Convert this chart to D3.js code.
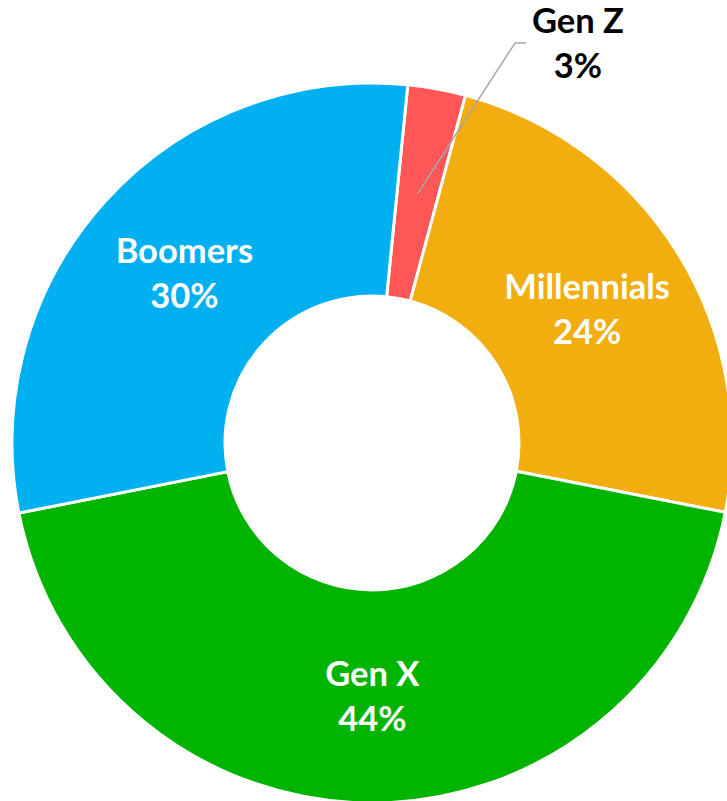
<!DOCTYPE html>
<html>
<head>
<meta charset="utf-8">
<script src="https://cdn.jsdelivr.net/npm/d3@7"></script>
<style>
  html, body { margin: 0; padding: 0; background: #fff; }
  svg { display: block; }
</style>
</head>
<body>
<svg id="chart" width="727" height="801"></svg>
<script>
// Share of respondents by generation (clockwise from the top)
const generations = ["Gen Z", "Millennials", "Gen X", "Boomers"];
const shares = [0.026, 0.239, 0.438, 0.297];
const colors = ["#FF5757", "#F2AD0F", "#00B400", "#00B0F0"];

const svg = d3.select("#chart");
const cx = 372, cy = 443;
const outerR = 360, innerR = 147;
const startDeg = 5.7;

const data = generations.map((g, i) => ({ name: g, value: shares[i], color: colors[i] }));

const pie = d3.pie()
  .sort(null)
  .value(d => d.value)
  .startAngle(startDeg * Math.PI / 180)
  .endAngle((startDeg + 360) * Math.PI / 180);

const arc = d3.arc().innerRadius(innerR).outerRadius(outerR);
const labelArc = d3.arc().innerRadius((innerR + outerR) / 2).outerRadius((innerR + outerR) / 2);

const g = svg.append("g").attr("transform", `translate(${cx},${cy})`);
const arcs = pie(data);

g.selectAll("path.slice")
  .data(arcs)
  .join("path")
  .attr("class", "slice")
  .attr("d", arc)
  .attr("fill", d => d.data.color)
  .attr("stroke", "#fff")
  .attr("stroke-width", 3)
  .attr("stroke-linejoin", "miter");

const pct = d3.format(".0%");
const font = "Lato, 'Open Sans', sans-serif";
const fontSize = 34.5;

// Labels inside the ring for the large slices, an outside callout for the small one
arcs.forEach(d => {
  const [lx, ly] = labelArc.centroid(d);
  if (d.data.name === "Gen Z") {
    const tx = 578 - cx, ty = 33 - cy;  // callout text anchor (first baseline)
    g.append("polyline")
      .attr("points", [[lx, ly], [515 - cx, 43 - cy], [526 - cx, 43 - cy]].map(p => p.join(",")).join(" "))
      .attr("fill", "none")
      .attr("stroke", "#A6A6A6")
      .attr("stroke-width", 1.5);
    const t = g.append("text")
      .attr("text-anchor", "middle")
      .attr("font-family", font)
      .attr("font-weight", 700)
      .attr("font-size", fontSize)
      .attr("fill", "#000");
    t.append("tspan").attr("x", tx).attr("y", ty).text(d.data.name);
    t.append("tspan").attr("x", tx).attr("y", ty + 45).text(pct(d.data.value));
  } else {
    const t = g.append("text")
      .attr("text-anchor", "middle")
      .attr("font-family", font)
      .attr("font-weight", 700)
      .attr("font-size", fontSize)
      .attr("fill", "#fff");
    t.append("tspan").attr("x", lx).attr("y", ly - 10).text(d.data.name);
    t.append("tspan").attr("x", lx).attr("y", ly + 35).text(pct(d.data.value));
  }
});
</script>
</body>
</html>
